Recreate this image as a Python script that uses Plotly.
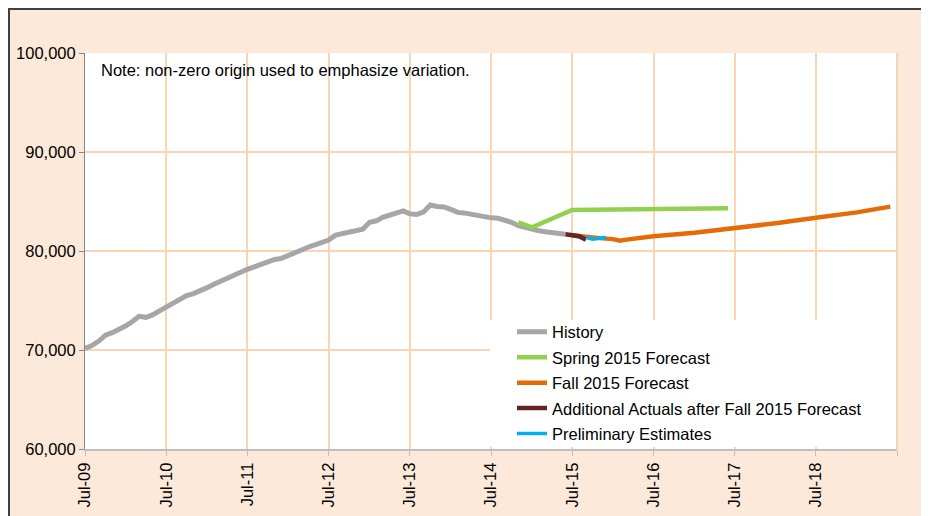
import plotly.graph_objects as go

# History (monthly actuals)
history_dates = [
    "2009-07", "2009-08", "2009-09", "2009-10", "2009-11", "2009-12",
    "2010-01", "2010-02", "2010-03", "2010-04", "2010-05", "2010-06",
    "2010-07", "2010-08", "2010-09", "2010-10", "2010-11", "2010-12",
    "2011-01", "2011-02", "2011-03", "2011-04", "2011-05", "2011-06",
    "2011-07", "2011-08", "2011-09", "2011-10", "2011-11", "2011-12",
    "2012-01", "2012-02", "2012-03", "2012-04", "2012-05", "2012-06",
    "2012-07", "2012-08", "2012-09", "2012-10", "2012-11", "2012-12",
    "2013-01", "2013-02", "2013-03", "2013-04", "2013-05", "2013-06",
    "2013-07", "2013-08", "2013-09", "2013-10", "2013-11", "2013-12",
    "2014-01", "2014-02", "2014-03", "2014-04", "2014-05", "2014-06",
    "2014-07", "2014-08", "2014-09", "2014-10", "2014-11", "2014-12",
    "2015-01", "2015-02", "2015-03", "2015-04", "2015-05", "2015-06",
]
history_values = [
    70170, 70450, 70900, 71500, 71750, 72050,
    72450, 72900, 73400, 73300, 73550, 73950,
    74300, 74700, 75050, 75500, 75700, 75950,
    76300, 76650, 76950, 77300, 77600, 77900,
    78150, 78400, 78650, 79000, 79150, 79250,
    79500, 79750, 80100, 80400, 80600, 80800,
    81100, 81600, 81750, 81950, 82050, 82200,
    82900, 83050, 83400, 83650, 83850, 84050,
    83750, 83700, 83950, 84650, 84500, 84450,
    84200, 83900, 83850, 83700, 83550, 83400,
    83350, 83300, 83150, 82900, 82550, 82350,
    82150, 82050, 81950, 81850, 81750, 81690,
]

# Spring 2015 forecast
spring_dates = ["2014-11", "2015-01", "2015-07", "2016-07", "2017-06"]
spring_values = [82900, 82400, 84150, 84230, 84310]

# Fall 2015 forecast
fall_dates = ["2015-07", "2015-09", "2015-11", "2016-01", "2016-02", "2016-03",
              "2016-07", "2017-01", "2017-07", "2018-01", "2018-07", "2019-01", "2019-06"]
fall_values = [81600, 81400, 81300, 81200, 81050, 81150,
               81480, 81850, 82290, 82800, 83350, 83900, 84480]

# Additional actuals after fall 2015 forecast
actual_dates = ["2015-06", "2015-07", "2015-08", "2015-09"]
actual_values = [81690, 81620, 81500, 81150]

# Preliminary estimates
prelim_dates = ["2015-09", "2015-10", "2015-11", "2015-12"]
prelim_values = [81380, 81200, 81280, 81370]

# x axis ticks (last one sits on the right edge, unlabeled)
tick_dates = ["2009-07-01", "2010-07-01", "2011-07-01", "2012-07-01", "2013-07-01",
              "2014-07-01", "2015-07-01", "2016-07-01", "2017-07-01", "2018-07-01",
              "2019-07-01"]
tick_labels = ["Jul-09", "Jul-10", "Jul-11", "Jul-12", "Jul-13",
               "Jul-14", "Jul-15", "Jul-16", "Jul-17", "Jul-18", ""]

PEACH = "#FDE9D9"
GRID = "#FBD4B4"
FONT = "Arial, Liberation Sans, sans-serif"
FS = 16.5

fig = go.Figure()

series = [
    ("History", history_dates, history_values, "#A6A6A6", 5),
    ("Spring 2015 Forecast", spring_dates, spring_values, "#92D050", 4.5),
    ("Fall 2015 Forecast", fall_dates, fall_values, "#E36C09", 4.5),
    ("Additional Actuals after Fall 2015 Forecast", actual_dates, actual_values, "#632523", 4.5),
    ("Preliminary Estimates", prelim_dates, prelim_values, "#00B0F0", 3.5),
]
for i, (name, xs, ys, color, w) in enumerate(series):
    fig.add_trace(go.Scatter(
        x=xs, y=ys, name=name, mode="lines",
        line=dict(color=color, width=w),
        legendgroup=str(i),
    ))

# page has an 8px body margin, so the plot area (screen 85..897, 53..449)
# is placed with margins reduced by 8
def px_x(p):
    return (p - 85) / 812

def px_y(p):
    return (449 - p) / 396

shapes = [
    # white legend panel covering the gridlines
    dict(type="rect", xref="paper", yref="paper", x0=px_x(490), x1=1.0,
         y0=px_y(447), y1=px_y(320), fillcolor="white", line_width=0, layer="above"),
    # right edge of the plot area
    dict(type="line", xref="paper", yref="paper", x0=1, x1=1, y0=0, y1=1,
         line=dict(color=GRID, width=2)),
    # outer frame
    dict(type="line", xref="paper", yref="paper", x0=px_x(9), x1=px_x(9),
         y0=px_y(530), y1=px_y(8), line=dict(color="#404040", width=2)),
    dict(type="line", xref="paper", yref="paper", x0=px_x(8), x1=px_x(940),
         y0=px_y(9), y1=px_y(9), line=dict(color="#404040", width=2)),
]

fig.update_layout(
    width=929, height=516,
    margin=dict(l=77, r=40, t=45, b=75),
    paper_bgcolor=PEACH,
    plot_bgcolor="white",
    font=dict(family=FONT, size=FS, color="#000000"),
    shapes=shapes,
    showlegend=True,
    legend=dict(
        x=px_x(512), y=px_y(314.5), xanchor="left", yanchor="top",
        bgcolor="rgba(0,0,0,0)", font=dict(size=FS, color="#000000"),
        tracegroupgap=1, itemwidth=30,
    ),
    annotations=[dict(
        text="Note: non-zero origin used to emphasize variation.",
        xref="paper", yref="paper", x=px_x(99), y=px_y(70),
        xanchor="left", yanchor="middle", showarrow=False,
        font=dict(size=FS, color="#000000"),
    )],
)

fig.update_xaxes(
    type="date",
    range=["2009-07-01", "2019-07-01"],
    tickvals=tick_dates, ticktext=tick_labels,
    tickangle=-90,
    showgrid=True, gridcolor=GRID, gridwidth=2,
    showline=True, linecolor="#BFBFBF", linewidth=2,
    ticks="outside", ticklen=5, tickcolor="#BFBFBF",
    tickfont=dict(size=FS, color="#000000"),
    zeroline=False, automargin=False,
)
fig.update_yaxes(
    range=[60000, 100000],
    dtick=10000, tickformat=",",
    showgrid=True, gridcolor=GRID, gridwidth=2,
    showline=True, linecolor="#868686", linewidth=1,
    ticks="outside", ticklen=5, tickcolor="#868686",
    tickfont=dict(size=FS, color="#000000"),
    zeroline=False, automargin=False,
)

fig.write_html("out.html")
